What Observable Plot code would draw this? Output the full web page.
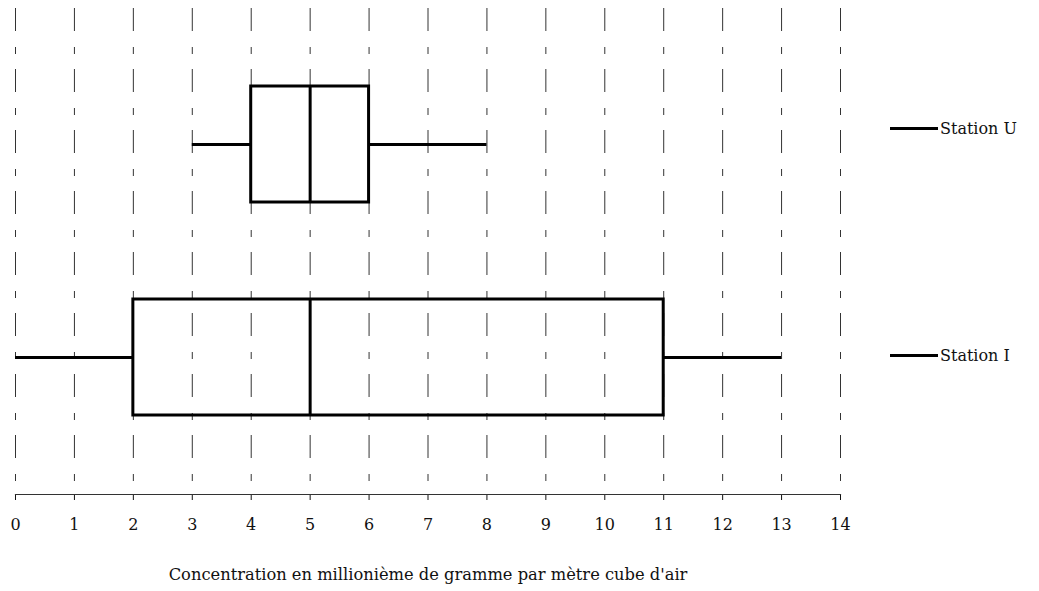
<!DOCTYPE html>
<html>
<head>
<meta charset="utf-8">
<script src="https://cdn.jsdelivr.net/npm/d3@7"></script>
<script src="https://cdn.jsdelivr.net/npm/@observablehq/plot@0.6"></script>
<style>
  body { margin: 0; background: #fff; }
  #wrap { position: relative; width: 1039px; height: 591px; font-family: "DejaVu Serif", serif; }
  .leg { position: absolute; left: 890px; display: flex; align-items: center; font-family: "DejaVu Serif", serif; font-size: 16px; color: #111; }
  .leg .sw { width: 48px; height: 0; border-top: 3.5px solid #000; margin-right: 2px; }
</style>
</head>
<body>
<div id="wrap"></div>
<script>
const stations = ["Station U", "Station I"];
const mins = [3, 0];
const q1s = [4, 2];
const medians = [5, 5];
const q3s = [6, 11];
const maxs = [8, 13];
const xTicks = [0, 1, 2, 3, 4, 5, 6, 7, 8, 9, 10, 11, 12, 13, 14];
const xTitle = "Concentration en millionième de gramme par mètre cube d'air";

const rows = stations.map((s, i) => ({station: s, min: mins[i], q1: q1s[i], median: medians[i], q3: q3s[i], max: maxs[i]}));

const chart = Plot.plot({
  width: 1039,
  height: 591,
  marginLeft: 15,
  marginRight: 199,
  marginTop: 8,
  marginBottom: 97,
  style: {fontFamily: "'DejaVu Serif', serif", fontSize: "16px", color: "#111", background: "#fff"},
  x: {domain: [0, 14], ticks: xTicks, tickSize: 6, tickPadding: 18, label: null},
  y: {domain: stations, type: "band", paddingInner: 0.455, paddingOuter: 0.368, axis: null},
  marks: [
    Plot.ruleX(xTicks, {stroke: "#333", strokeWidth: 1, strokeDasharray: "23,16,7,15"}),
    Plot.frame({anchor: "bottom", stroke: "#333", strokeWidth: 1.2}),
    Plot.ruleY(rows, {y: "station", x1: "min", x2: "q1", stroke: "#000", strokeWidth: 3}),
    Plot.ruleY(rows, {y: "station", x1: "q3", x2: "max", stroke: "#000", strokeWidth: 3}),
    Plot.barX(rows, {y: "station", x1: "q1", x2: "q3", fill: "none", stroke: "#000", strokeWidth: 3}),
    Plot.tickX(rows, {y: "station", x: "median", stroke: "#000", strokeWidth: 3}),
    Plot.text([xTitle], {text: d => d, frameAnchor: "bottom", dy: 85, fontSize: 16.3, fill: "#111"})
  ]
});
const wrap = document.getElementById("wrap");
wrap.appendChild(chart);
[["Station U", 128], ["Station I", 355]].forEach(([name, y]) => {
  const d = document.createElement("div");
  d.className = "leg";
  d.style.top = (y - 12) + "px";
  d.style.height = "24px";
  d.innerHTML = `<span class="sw"></span><span>${name}</span>`;
  wrap.appendChild(d);
});
</script>
</body>
</html>
